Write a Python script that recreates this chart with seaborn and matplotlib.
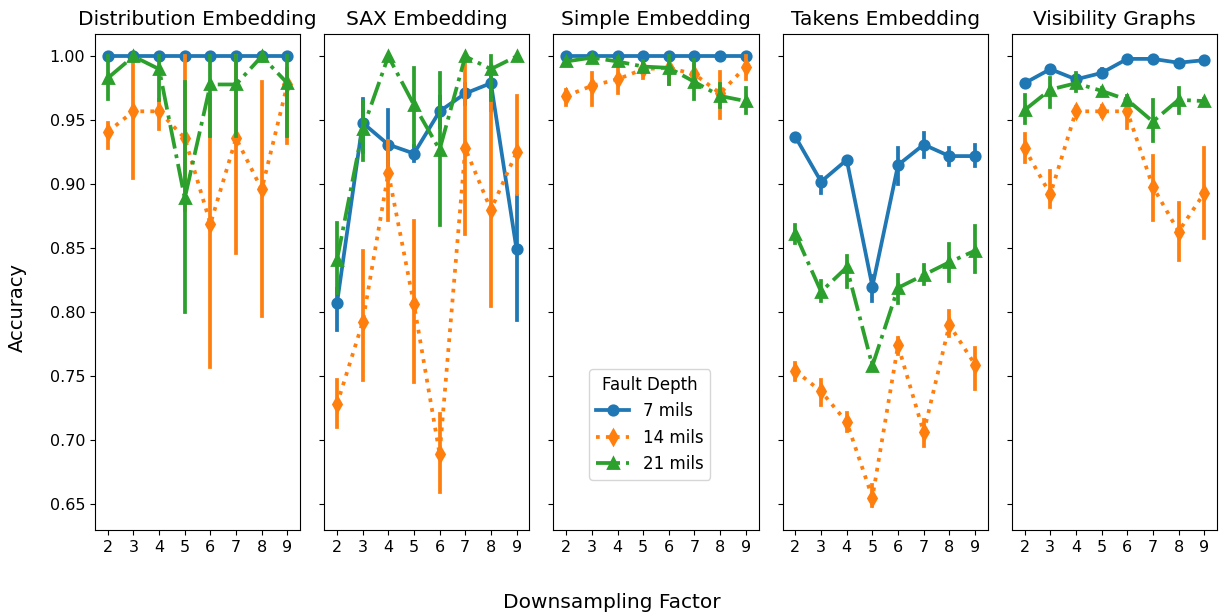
import matplotlib
matplotlib.use("Agg")
import matplotlib.pyplot as plt
import seaborn as sns
import pandas as pd

factors = [2, 3, 4, 5, 6, 7, 8, 9]
depths = ["7 mils", "14 mils", "21 mils"]
panels = ["Distribution Embedding", "SAX Embedding", "Simple Embedding",
          "Takens Embedding", "Visibility Graphs"]

# ---- Distribution Embedding ----
dist_7 = [1.0, 1.0, 1.0, 1.0, 1.0, 1.0, 1.0, 1.0]
dist_7_lo = [1.0, 1.0, 1.0, 1.0, 1.0, 1.0, 1.0, 1.0]
dist_7_hi = [1.0, 1.0, 1.0, 1.0, 1.0, 1.0, 1.0, 1.0]
dist_14 = [0.941, 0.957, 0.957, 0.936, 0.869, 0.936, 0.896, 0.978]
dist_14_lo = [0.928, 0.905, 0.943, 0.880, 0.757, 0.846, 0.797, 0.932]
dist_14_hi = [0.948, 1.0, 0.966, 1.0, 0.970, 1.0, 0.980, 0.990]
dist_21 = [0.983, 1.0, 0.990, 0.889, 0.978, 0.978, 1.0, 0.979]
dist_21_lo = [0.967, 1.0, 0.966, 0.800, 0.938, 0.938, 1.0, 0.938]
dist_21_hi = [1.0, 1.0, 1.0, 0.980, 1.0, 1.0, 1.0, 1.0]

# ---- SAX Embedding ----
sax_7 = [0.807, 0.948, 0.931, 0.924, 0.957, 0.971, 0.979, 0.849]
sax_7_lo = [0.786, 0.925, 0.905, 0.918, 0.945, 0.963, 0.958, 0.794]
sax_7_hi = [0.818, 0.967, 0.958, 0.930, 0.968, 0.978, 0.990, 0.891]
sax_14 = [0.728, 0.792, 0.909, 0.806, 0.689, 0.928, 0.880, 0.925]
sax_14_lo = [0.710, 0.747, 0.872, 0.745, 0.659, 0.861, 0.805, 0.892]
sax_14_hi = [0.747, 0.848, 0.934, 0.871, 0.720, 0.995, 0.966, 0.969]
sax_21 = [0.841, 0.943, 1.0, 0.962, 0.927, 1.0, 0.990, 1.0]
sax_21_lo = [0.815, 0.919, 1.0, 0.930, 0.868, 1.0, 0.966, 1.0]
sax_21_hi = [0.870, 0.965, 1.0, 0.991, 0.987, 1.0, 1.0, 1.0]

# ---- Simple Embedding ----
simple_7 = [1.0, 1.0, 1.0, 1.0, 1.0, 1.0, 1.0, 1.0]
simple_7_lo = [1.0, 1.0, 1.0, 1.0, 1.0, 1.0, 1.0, 1.0]
simple_7_hi = [1.0, 1.0, 1.0, 1.0, 1.0, 1.0, 1.0, 1.0]
simple_14 = [0.969, 0.977, 0.982, 0.990, 0.991, 0.986, 0.971, 0.992]
simple_14_lo = [0.962, 0.962, 0.971, 0.983, 0.978, 0.978, 0.952, 0.982]
simple_14_hi = [0.974, 0.987, 0.993, 0.995, 0.996, 0.993, 0.988, 1.0]
simple_21 = [0.996, 0.999, 0.996, 0.992, 0.991, 0.980, 0.969, 0.965]
simple_21_lo = [0.994, 0.997, 0.993, 0.988, 0.978, 0.967, 0.960, 0.956]
simple_21_hi = [0.998, 1.0, 0.999, 0.996, 1.0, 0.997, 0.978, 0.975]

# ---- Takens Embedding ----
takens_7 = [0.937, 0.902, 0.919, 0.820, 0.915, 0.931, 0.922, 0.922]
takens_7_lo = [0.935, 0.893, 0.917, 0.809, 0.900, 0.921, 0.915, 0.914]
takens_7_hi = [0.939, 0.906, 0.921, 0.828, 0.928, 0.940, 0.928, 0.931]
takens_14 = [0.754, 0.738, 0.714, 0.655, 0.774, 0.706, 0.790, 0.759]
takens_14_lo = [0.747, 0.727, 0.707, 0.648, 0.767, 0.695, 0.781, 0.740]
takens_14_hi = [0.760, 0.747, 0.721, 0.665, 0.780, 0.716, 0.801, 0.772]
takens_21 = [0.861, 0.816, 0.835, 0.758, 0.819, 0.829, 0.839, 0.848]
takens_21_lo = [0.854, 0.809, 0.820, 0.756, 0.807, 0.822, 0.824, 0.831]
takens_21_hi = [0.868, 0.824, 0.844, 0.760, 0.829, 0.837, 0.853, 0.867]

# ---- Visibility Graphs ----
vis_7 = [0.979, 0.990, 0.982, 0.987, 0.998, 0.998, 0.995, 0.997]
vis_7_lo = [0.977, 0.988, 0.980, 0.984, 0.997, 0.997, 0.993, 0.996]
vis_7_hi = [0.981, 0.992, 0.984, 0.990, 0.999, 0.999, 0.997, 0.998]
vis_14 = [0.928, 0.892, 0.957, 0.957, 0.957, 0.898, 0.863, 0.893]
vis_14_lo = [0.917, 0.882, 0.954, 0.953, 0.944, 0.872, 0.841, 0.858]
vis_14_hi = [0.939, 0.910, 0.960, 0.961, 0.961, 0.922, 0.885, 0.928]
vis_21 = [0.958, 0.974, 0.979, 0.973, 0.966, 0.949, 0.966, 0.965]
vis_21_lo = [0.948, 0.960, 0.973, 0.971, 0.963, 0.934, 0.956, 0.963]
vis_21_hi = [0.970, 0.983, 0.987, 0.975, 0.969, 0.966, 0.975, 0.967]

series = {
    "Distribution Embedding": [(dist_7, dist_7_lo, dist_7_hi),
                               (dist_14, dist_14_lo, dist_14_hi),
                               (dist_21, dist_21_lo, dist_21_hi)],
    "SAX Embedding": [(sax_7, sax_7_lo, sax_7_hi),
                      (sax_14, sax_14_lo, sax_14_hi),
                      (sax_21, sax_21_lo, sax_21_hi)],
    "Simple Embedding": [(simple_7, simple_7_lo, simple_7_hi),
                         (simple_14, simple_14_lo, simple_14_hi),
                         (simple_21, simple_21_lo, simple_21_hi)],
    "Takens Embedding": [(takens_7, takens_7_lo, takens_7_hi),
                         (takens_14, takens_14_lo, takens_14_hi),
                         (takens_21, takens_21_lo, takens_21_hi)],
    "Visibility Graphs": [(vis_7, vis_7_lo, vis_7_hi),
                          (vis_14, vis_14_lo, vis_14_hi),
                          (vis_21, vis_21_lo, vis_21_hi)],
}

rows = []
for panel in panels:
    for depth, (mid, lo, hi) in zip(depths, series[panel]):
        for f, m, l, h in zip(factors, mid, lo, hi):
            for v in (l, m, h):
                rows.append({"panel": panel, "Fault Depth": depth,
                             "Downsampling Factor": f, "Accuracy": v})
df = pd.DataFrame(rows)

plt.rcParams["font.family"] = ["DejaVu Sans"]
fig, axes = plt.subplots(1, 5, figsize=(12.24, 6.15), dpi=100, sharey=True)
fig.subplots_adjust(left=0.0776, right=0.9943, top=0.945, bottom=0.138,
                    wspace=0.117)

palette = ["#1f77b4", "#ff7f0e", "#2ca02c"]
for ax, panel in zip(axes, panels):
    sub = df[df["panel"] == panel]
    sns.pointplot(data=sub, x="Downsampling Factor", y="Accuracy",
                  hue="Fault Depth", hue_order=depths, order=factors,
                  palette=palette, markers=["o", "d", "^"],
                  linestyles=["-", ":", "-."], estimator="median",
                  errorbar=("pi", 100), ax=ax)
    ax.set_title(panel, fontsize=14.5)
    ax.set_xlabel("")
    ax.set_ylabel("")
    ax.tick_params(labelsize=11.5)
    if panel != "Simple Embedding":
        ax.get_legend().remove()
    else:
        leg = ax.legend(title="Fault Depth", loc="lower center",
                        bbox_to_anchor=(0.47, 0.085), fontsize=12,
                        title_fontsize=12)

axes[0].set_ylim(0.6295, 1.0176)
axes[0].set_yticks([0.65, 0.70, 0.75, 0.80, 0.85, 0.90, 0.95, 1.00])
axes[0].set_yticklabels([f"{t:.2f}" for t in [0.65, 0.70, 0.75, 0.80, 0.85, 0.90, 0.95, 1.00]])
fig.supxlabel("Downsampling Factor", fontsize=14.5, y=0.005)
fig.supylabel("Accuracy", fontsize=14, x=0.006)

fig.savefig("out.png", dpi=100)
